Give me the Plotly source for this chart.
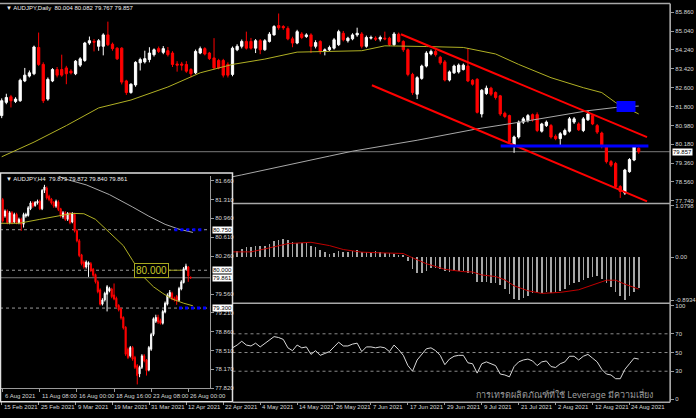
import plotly.graph_objects as go

# ---------------- DATA ----------------
# Daily AUDJPY candles, bar 0 = 15 Feb 2021 ... bar 138 = 26 Aug 2021
daily_open = [81.41,81.98,82.22,82.02,82.05,82.90,83.11,83.21,84.34,83.61,
82.12,82.90,83.39,83.39,83.46,83.32,83.21,83.58,83.78,84.53,
84.60,84.39,84.39,84.88,84.48,84.31,84.31,82.90,82.40,82.73,
83.68,83.72,83.82,84.03,84.29,84.13,84.20,84.10,83.63,83.63,
83.61,83.39,83.25,84.10,84.29,84.10,83.89,83.78,83.78,83.61,
83.18,84.24,84.39,84.60,84.60,84.31,84.63,84.24,84.60,84.88,
85.28,85.24,85.16,84.71,84.53,84.92,84.81,84.88,84.39,84.60,
84.17,84.24,84.31,84.46,84.95,84.63,84.71,84.88,84.92,84.39,
84.74,84.74,84.70,84.74,84.74,84.46,84.91,84.60,84.24,83.18,
82.33,83.01,83.54,84.06,84.17,83.92,83.72,82.94,83.25,83.29,
83.39,83.54,82.93,82.97,81.48,82.36,82.59,82.40,82.26,81.51,
81.41,80.13,80.49,81.13,81.20,81.45,81.45,80.74,80.98,80.98,
80.52,80.42,80.60,80.74,81.13,81.05,80.77,81.23,81.41,80.98,
80.66,80.09,79.43,79.35,78.36,78.08,79.00,79.50,80.004]
daily_high = [82.15,82.35,82.30,82.20,83.00,83.46,83.35,84.42,84.98,83.70,
83.05,83.45,83.50,84.03,83.55,83.40,83.80,83.92,84.58,84.81,
84.70,84.70,84.95,85.45,84.55,84.35,84.35,82.95,82.80,83.75,
83.90,84.20,84.35,84.30,84.38,84.40,84.36,84.18,83.75,83.72,
83.75,83.45,84.25,84.38,84.35,84.15,84.74,83.85,83.85,83.70,
84.38,84.48,84.68,85.02,84.75,84.70,84.70,84.70,85.00,85.30,
85.80,85.30,85.25,84.80,85.10,85.00,84.95,84.95,84.65,84.65,
84.30,84.42,84.75,85.10,85.05,84.80,84.95,85.19,85.00,84.85,
84.85,84.82,84.85,85.02,84.80,85.00,84.98,84.65,84.30,83.25,
83.10,83.60,84.18,84.25,84.25,83.98,83.80,83.35,83.60,83.65,
83.65,84.31,82.98,83.02,82.55,82.70,82.65,82.45,82.30,81.58,
81.45,80.55,81.20,81.35,81.48,81.50,81.55,81.10,81.20,81.05,
80.60,80.70,80.85,81.35,81.35,81.12,81.35,81.62,81.48,81.05,
80.72,80.15,79.50,79.42,78.42,79.12,79.58,80.12,80.082]
daily_low = [81.30,81.90,81.76,81.95,82.00,82.85,83.05,83.15,83.55,81.95,
82.05,82.85,83.05,83.08,82.76,83.18,83.15,83.50,83.72,84.45,
84.17,84.20,84.00,84.40,84.20,83.80,82.75,82.30,82.35,82.65,
83.35,83.65,83.70,83.95,84.10,84.05,83.95,83.50,83.30,83.35,
83.25,83.05,83.20,84.05,84.00,83.80,83.40,83.40,83.05,83.05,
83.10,84.18,84.30,84.25,84.25,84.10,84.05,84.20,84.55,84.85,
85.10,85.10,84.65,84.35,84.48,84.70,84.75,84.10,84.30,84.05,
84.00,84.18,84.25,84.40,84.60,84.55,84.65,84.80,84.30,84.33,
84.68,84.62,84.60,84.65,84.40,84.40,84.55,84.15,83.10,82.30,
82.12,82.95,83.48,84.00,83.95,83.60,82.88,82.88,83.20,83.22,
83.35,82.85,82.70,81.50,81.33,82.30,82.25,82.10,81.40,81.30,
80.20,79.81,80.42,81.05,81.12,81.15,80.70,80.68,80.92,80.42,
80.35,80.13,80.55,80.68,81.05,80.75,80.70,81.18,81.00,80.62,
80.00,79.35,79.20,78.28,77.87,78.00,78.95,79.45,79.767]
daily_close = [82.05,82.19,82.05,82.12,82.93,83.15,83.25,84.36,83.61,82.05,
82.97,83.39,83.15,83.15,83.21,83.25,83.75,83.85,84.53,84.63,
84.57,84.63,84.88,84.46,84.29,83.85,82.85,82.40,82.76,83.70,
83.82,83.86,84.10,84.24,84.17,84.29,84.03,83.61,83.58,83.58,
83.32,83.21,84.17,84.29,84.06,83.86,83.46,83.46,83.15,83.15,
84.31,84.39,84.60,84.31,84.31,84.63,84.24,84.63,84.91,85.24,
85.19,85.19,84.71,84.53,85.02,84.77,84.88,84.39,84.55,84.17,
84.24,84.34,84.67,85.02,84.67,84.74,84.88,84.95,84.39,84.77,
84.77,84.70,84.77,84.71,84.46,84.92,84.60,84.24,83.18,82.40,
83.04,83.54,84.10,84.17,84.03,83.68,82.94,83.29,83.54,83.58,
83.58,82.90,82.76,81.55,82.50,82.59,82.33,82.19,81.48,81.37,
80.28,80.49,81.13,81.27,81.41,81.23,80.77,81.05,81.13,80.49,
80.42,80.63,80.77,81.27,81.27,80.80,81.27,81.48,81.05,80.70,
80.09,79.43,79.28,78.36,78.15,79.07,79.52,80.06,79.857]

# moving averages
ma50_idx = [0, 7, 14, 21, 28, 36, 43, 50, 57, 61, 64, 71, 78, 83, 89, 92, 100, 107, 112, 119, 126, 130, 133, 138]
ma50_val = [79.64, 80.27, 80.98, 81.74, 82.08, 82.64, 83.25, 83.61, 83.84, 84.03, 84.14, 84.17, 84.20, 84.41,
            84.41, 84.38, 84.34, 84.06, 83.61, 83.04, 82.61, 82.40, 81.97, 81.48]
ma200_idx = [50, 52, 71, 76, 90, 103, 112, 119, 127, 133, 138]
ma200_val = [78.78, 78.86, 79.67, 79.88, 80.35, 80.84, 81.12, 81.34, 81.62, 81.76, 81.82]

# drawn objects
channel_upper_idx = [86.5, 139.8]
channel_upper_val = [84.908, 80.486]
channel_lower_idx = [80.2, 139.8]
channel_lower_val = [82.714, 77.722]
support_idx = [108.1, 140.1]
support_level = 80.10
zone_idx = [133.2, 137.3]
zone_val = [81.57, 82.04]
bid_daily = 79.857

main_tick_idx = [0, 8, 16, 24, 32, 40, 48, 56, 64, 72, 80, 88, 96, 104, 112, 120, 128, 136]
main_tick_text = ["15 Feb 2021", "25 Feb 2021", "9 Mar 2021", "19 Mar 2021", "31 Mar 2021", "12 Apr 2021",
                  "22 Apr 2021", "4 May 2021", "14 May 2021", "26 May 2021", "7 Jun 2021", "17 Jun 2021",
                  "29 Jun 2021", "9 Jul 2021", "21 Jul 2021", "2 Aug 2021", "12 Aug 2021", "24 Aug 2021"]
price_ticks = [85.860, 85.040, 84.240, 83.420, 82.600, 81.800, 80.980, 80.180, 79.360, 78.560, 77.740]

# MACD (bars from 50 on; left part hidden behind inset)
macd_start = 50
macd_hist = [0.107,0.127,0.175,0.217,0.217,0.244,0.23,0.244,0.285,0.333,
0.368,0.388,0.354,0.32,0.30,0.30,0.30,0.23,0.217,0.16,
0.107,0.079,0.093,0.127,0.113,0.113,0.141,0.148,0.107,0.107,
0.107,0.127,0.107,0.093,0.093,0.072,0.058,0.038,-0.079,-0.25,
-0.32,-0.335,-0.285,-0.216,-0.216,-0.25,-0.285,-0.306,-0.285,-0.285,
-0.285,-0.32,-0.354,-0.512,-0.512,-0.512,-0.526,-0.526,-0.58,-0.663,
-0.766,-0.87,-0.89,-0.85,-0.80,-0.746,-0.732,-0.746,-0.732,-0.746,
-0.718,-0.698,-0.663,-0.58,-0.54,-0.512,-0.471,-0.423,-0.402,-0.388,
-0.443,-0.526,-0.629,-0.718,-0.814,-0.89,-0.80,-0.72,-0.65]
signal_idx = [50, 54, 58, 62, 67, 71, 74, 78, 82, 85, 87, 89, 92, 96, 100, 102, 104, 107, 109, 111, 114,
              117, 121, 125, 128, 131, 133, 135, 138]
signal_val = [0.113, 0.113, 0.196, 0.285, 0.313, 0.244, 0.162, 0.107, 0.093, 0.093, 0.079, -0.010, -0.134,
              -0.251, -0.299, -0.306, -0.368, -0.402, -0.471, -0.595, -0.698, -0.753, -0.732, -0.677,
              -0.574, -0.478, -0.478, -0.560, -0.663]
macd_ticks = [1.0798, 0.0, -0.8934]
macd_ticktext = ["1.0798", "0.00", "-0.8934"]

# oscillator (0-100)
osc_start = 50
osc_val = [55,58,62,58,57,60,56,60,64,67,66,
64,55,52,58,55,56,48,52,47,49,
51,56,61,57,57,59,60,51,56,56,
55,56,55,51,58,53,47,36,
30,42,48,54,55,52,47,37,43,46,47,47,
39,38,28,38,40,38,36,27,26,24,
35,40,42,43,41,36,40,41,35,34,
38,40,46,46,42,46,48,44,40,32,
27,26,22,22,32,38,44,43]
osc_levels = [70, 50, 30]
osc_ticks = [100, 70, 50, 30, 0]

# H4 inset, bar 0 = 6 Aug 16:00 ... bar 81 = 26 Aug 04:00
h4_open = [81.307,81.003,81.094,80.881,81.064,80.893,81.033,80.881,80.942,80.851,
81.003,81.015,81.137,81.246,81.198,81.246,81.277,81.137,81.478,81.520,
81.368,81.319,81.259,81.186,81.265,81.137,80.991,81.064,80.942,81.052,
80.893,81.033,80.729,80.546,80.285,80.151,80.060,80.102,80.121,80.017,
79.920,79.786,79.634,79.372,79.451,79.555,79.615,79.652,79.543,79.482,
79.348,79.287,79.128,78.946,78.538,78.416,78.569,78.386,78.234,78.082,
78.203,78.416,78.337,78.154,78.538,78.812,79.056,79.128,79.068,79.019,
79.226,79.372,79.512,79.573,79.482,79.512,79.445,79.652,79.774,80.017,
80.060,79.873]
h4_high = [81.338,81.125,81.125,81.094,81.094,81.064,81.064,80.973,80.973,81.064,
81.064,81.186,81.277,81.277,81.277,81.307,81.307,81.502,81.581,81.551,
81.399,81.338,81.277,81.307,81.295,81.155,81.094,81.094,81.076,81.076,
81.076,81.064,80.760,80.577,80.303,80.182,80.182,80.163,80.151,80.041,
79.938,79.816,79.664,79.482,79.603,79.725,79.694,79.676,79.755,79.512,
79.372,79.311,79.147,78.964,78.569,78.599,78.599,78.416,78.264,78.234,
78.447,78.447,78.356,78.599,78.842,79.128,79.177,79.177,79.104,79.268,
79.421,79.573,79.634,79.603,79.512,79.543,79.694,79.816,80.060,80.121,
80.078,79.882]
h4_low = [80.881,80.973,80.851,80.851,80.851,80.869,80.851,80.851,80.729,80.790,
80.973,80.991,81.113,81.155,81.174,81.216,81.113,81.113,81.429,81.307,
81.277,81.216,81.155,81.155,81.094,80.973,80.954,80.912,80.912,80.851,
80.869,80.699,80.516,80.242,80.090,80.029,80.029,79.877,79.968,79.877,
79.755,79.573,79.348,79.348,79.421,79.238,79.591,79.482,79.445,79.299,
79.238,79.086,78.903,78.416,78.356,78.386,78.325,78.173,77.887,78.021,
78.173,78.295,78.051,78.130,78.508,78.782,79.025,79.007,78.995,78.995,
79.202,79.348,79.482,79.445,79.421,79.360,79.421,79.628,79.755,79.999,
79.786,79.840]
h4_close = [80.912,81.094,80.881,81.064,80.881,81.033,80.881,80.942,80.851,81.033,
81.033,81.155,81.246,81.186,81.259,81.277,81.137,81.478,81.539,81.338,
81.307,81.246,81.186,81.277,81.125,81.003,81.064,80.942,81.052,80.881,
81.052,80.729,80.546,80.273,80.121,80.060,80.151,80.139,79.999,79.908,
79.786,79.603,79.372,79.451,79.573,79.694,79.664,79.512,79.469,79.329,
79.268,79.116,78.934,78.447,78.386,78.569,78.356,78.203,78.051,78.203,
78.416,78.325,78.142,78.569,78.812,79.104,79.128,79.043,79.019,79.238,
79.390,79.543,79.591,79.469,79.451,79.433,79.664,79.786,80.029,80.078,
79.895,79.861]
h4_ma_fast_k = [-1, 7, 16, 25, 30, 35, 40, 46, 52, 56, 60, 65, 69, 73, 78, 82]
h4_ma_fast = [80.869, 80.869, 80.942, 81.015, 81.052, 81.046, 80.942, 80.699, 80.455, 80.181, 79.908,
              79.694, 79.573, 79.469, 79.390, 79.342]
h4_ma_slow_k = [22, 26, 36, 46, 56, 63, 70, 76, 82]
h4_ma_slow = [81.80, 81.70, 81.58, 81.40, 81.17, 81.00, 80.85, 80.76, 80.70]
h4_tick_k = [0, 16, 32, 48, 64, 80]
h4_tick_text = ["6 Aug 2021", "11 Aug 08:00", "16 Aug 00:00", "18 Aug 16:00", "23 Aug 08:00", "26 Aug 00:00"]
h4_price_ticks = [81.660, 81.310, 80.960, 80.610, 80.260, 79.560, 79.210, 78.860, 78.510, 78.170, 77.820]
h4_level_high = 80.750
h4_level_round = 80.000
h4_level_low = 79.300
h4_bid = 79.861
h4_blue_high_k = [74, 87]
h4_blue_low_k = [76, 89]
h4_round_box_k = 64
h4_round_line_k = [70.5, 77]

header_daily = "▼ AUDJPY,Daily  80.004 80.082 79.767 79.857"
header_h4 = "▼ AUDJPY,H4  79.873 79.872 79.840 79.861"
watermark = "การเทรดผลิตภัณฑ์ที่ใช้ Leverage มีความเสี่ยง"

# ---------------- LAYOUT HELPERS ----------------
W, H = 696, 418
def fx(p):
    return p / W
def fy(p):
    return 1 - p / H

FONT = "Tahoma, Liberation Sans, Arial, sans-serif"
LBL = "#D6D6D6"
GRID = "#9A9A9A"
XR_MAIN = [-0.37, 144.8]
XR_H4 = [-1.16, 89.4]

daily_idx = list(range(len(daily_close)))
h4_k = list(range(len(h4_close)))
macd_idx = [macd_start + i for i in range(len(macd_hist))]
osc_idx = [osc_start + i for i in range(len(osc_val))]

fig = go.Figure()

candle_style = dict(
    increasing=dict(line=dict(color="#FFFFFF", width=1), fillcolor="#FFFFFF"),
    decreasing=dict(line=dict(color="#FF0000", width=1), fillcolor="#FF0000"),
    showlegend=False, hoverinfo="skip")

# main daily panel
fig.add_trace(go.Scatter(x=ma200_idx, y=ma200_val, mode="lines", line=dict(color="#A8A8A8", width=1),
                         xaxis="x", yaxis="y", showlegend=False, hoverinfo="skip"))
fig.add_trace(go.Scatter(x=ma50_idx, y=ma50_val, mode="lines", line=dict(color="#B0B024", width=1),
                         xaxis="x", yaxis="y", showlegend=False, hoverinfo="skip"))
fig.add_trace(go.Candlestick(x=daily_idx, open=daily_open, high=daily_high, low=daily_low, close=daily_close,
                             xaxis="x", yaxis="y", **candle_style))
fig.add_trace(go.Scatter(x=channel_upper_idx, y=channel_upper_val, mode="lines",
                         line=dict(color="#FF0000", width=2), xaxis="x", yaxis="y", showlegend=False,
                         hoverinfo="skip"))
fig.add_trace(go.Scatter(x=channel_lower_idx, y=channel_lower_val, mode="lines",
                         line=dict(color="#FF0000", width=2), xaxis="x", yaxis="y", showlegend=False,
                         hoverinfo="skip"))
fig.add_trace(go.Scatter(x=support_idx, y=[support_level, support_level], mode="lines",
                         line=dict(color="#0000FF", width=3), xaxis="x", yaxis="y", showlegend=False,
                         hoverinfo="skip"))

# MACD panel
fig.add_trace(go.Bar(x=macd_idx, y=macd_hist, width=0.35, marker=dict(color="#A6A6A6", line=dict(width=0)),
                     xaxis="x2", yaxis="y2", showlegend=False, hoverinfo="skip"))
fig.add_trace(go.Scatter(x=signal_idx, y=signal_val, mode="lines", line=dict(color="#C00000", width=1),
                         xaxis="x2", yaxis="y2", showlegend=False, hoverinfo="skip"))

# oscillator panel
fig.add_trace(go.Scatter(x=osc_idx, y=osc_val, mode="lines", line=dict(color="#D8D8D8", width=1),
                         xaxis="x3", yaxis="y3", showlegend=False, hoverinfo="skip"))

# H4 inset
fig.add_trace(go.Scatter(x=h4_ma_slow_k, y=h4_ma_slow, mode="lines", line=dict(color="#A8A8A8", width=1),
                         xaxis="x4", yaxis="y4", showlegend=False, hoverinfo="skip"))
fig.add_trace(go.Scatter(x=h4_ma_fast_k, y=h4_ma_fast, mode="lines", line=dict(color="#B0B024", width=1),
                         xaxis="x4", yaxis="y4", showlegend=False, hoverinfo="skip"))
fig.add_trace(go.Candlestick(x=h4_k, open=h4_open, high=h4_high, low=h4_low, close=h4_close,
                             xaxis="x4", yaxis="y4", **candle_style))
fig.add_trace(go.Scatter(x=h4_blue_high_k, y=[h4_level_high, h4_level_high], mode="lines",
                         line=dict(color="#0000FF", width=3, dash="dot"), xaxis="x4", yaxis="y4",
                         showlegend=False, hoverinfo="skip"))
fig.add_trace(go.Scatter(x=h4_blue_low_k, y=[h4_level_low, h4_level_low], mode="lines",
                         line=dict(color="#0000FF", width=3, dash="dot"), xaxis="x4", yaxis="y4",
                         showlegend=False, hoverinfo="skip"))
fig.add_trace(go.Scatter(x=h4_round_line_k, y=[h4_level_round, h4_level_round], mode="lines",
                         line=dict(color="#9C9C20", width=1), xaxis="x4", yaxis="y4",
                         showlegend=False, hoverinfo="skip"))

shapes = []
# bid line daily
shapes.append(dict(type="line", xref="x", yref="y", x0=XR_MAIN[0], x1=XR_MAIN[1], y0=bid_daily, y1=bid_daily,
                   line=dict(color="#7A7A7A", width=1), layer="below"))
# blue zone
shapes.append(dict(type="rect", xref="x", yref="y", x0=zone_idx[0], x1=zone_idx[1], y0=zone_val[0],
                   y1=zone_val[1], fillcolor="#0000FF", line=dict(width=0), layer="above"))
# oscillator levels
for lv in osc_levels:
    shapes.append(dict(type="line", xref="x3", yref="y3", x0=osc_start, x1=XR_MAIN[1], y0=lv, y1=lv,
                       line=dict(color="#8A8A8A", width=1, dash="dot"), layer="below"))
# inset levels
for lv in (h4_level_high, h4_level_round, h4_level_low):
    shapes.append(dict(type="line", xref="x4", yref="y4", x0=XR_H4[0], x1=XR_H4[1], y0=lv, y1=lv,
                       line=dict(color="#9A9A9A", width=1, dash="dot"), layer="below"))
shapes.append(dict(type="line", xref="x4", yref="y4", x0=XR_H4[0], x1=XR_H4[1], y0=h4_bid, y1=h4_bid,
                   line=dict(color="#7A7A7A", width=1), layer="below"))
# window frames / separators
sep = dict(color="#A8A8A8", width=1.5)
shapes.append(dict(type="line", xref="paper", yref="paper", x0=0, x1=fx(673), y0=fy(1.5), y1=fy(1.5), line=sep))
shapes.append(dict(type="line", xref="paper", yref="paper", x0=fx(673), x1=fx(673), y0=fy(405), y1=fy(1.5), line=sep))
shapes.append(dict(type="line", xref="paper", yref="paper", x0=fx(234), x1=fx(673), y0=fy(204), y1=fy(204), line=sep))
shapes.append(dict(type="line", xref="paper", yref="paper", x0=fx(234), x1=fx(673), y0=fy(305), y1=fy(305), line=sep))
shapes.append(dict(type="line", xref="paper", yref="paper", x0=fx(234), x1=fx(673), y0=fy(405), y1=fy(405), line=sep))
# inset window frame
shapes.append(dict(type="rect", xref="paper", yref="paper", x0=fx(0.5), x1=fx(233.5), y0=fy(404.5), y1=fy(173),
                   line=dict(color="#E0E0E0", width=1.5), fillcolor="rgba(0,0,0,0)", layer="above"))

ann = []
ann.append(dict(text=header_daily, xref="paper", yref="paper", x=fx(4), y=fy(6), xanchor="left", yanchor="middle",
                showarrow=False, font=dict(size=6, color="#F0F0F0", family=FONT)))
ann.append(dict(text=header_h4, xref="paper", yref="paper", x=fx(4), y=fy(179), xanchor="left", yanchor="middle",
                showarrow=False, font=dict(size=6, color="#F0F0F0", family=FONT)))
for k, t in zip(main_tick_idx, main_tick_text):
    ann.append(dict(text=t, xref="x3", yref="paper", x=k, y=fy(410), xanchor="left", yanchor="middle",
                    showarrow=False, font=dict(size=6, color=LBL, family=FONT)))
for k, t in zip(h4_tick_k, h4_tick_text):
    ann.append(dict(text=t, xref="x4", yref="paper", x=k, y=fy(398.5), xanchor="left", yanchor="middle",
                    showarrow=False, font=dict(size=6, color=LBL, family=FONT)))
ann.append(dict(text="%.3f" % bid_daily, xref="paper", yref="y", x=fx(675), y=bid_daily, xanchor="left",
                yanchor="middle", showarrow=False, bgcolor="#FFFFFF", borderpad=0,
                font=dict(size=6, color="#000000", family=FONT)))
for lv in (h4_level_high, h4_level_round, h4_bid, h4_level_low):
    ann.append(dict(text="%.3f" % lv, xref="paper", yref="y4", x=fx(213), y=lv, xanchor="left",
                    yanchor="middle", showarrow=False, bgcolor="#FFFFFF", borderpad=0,
                    font=dict(size=6, color="#000000", family=FONT)))
ann.append(dict(text="%.3f" % h4_level_round, xref="x4", yref="y4", x=h4_round_box_k, y=h4_level_round,
                xanchor="center", yanchor="middle", showarrow=False, bgcolor="#000000", bordercolor="#A8A820",
                borderwidth=1, borderpad=1, font=dict(size=10, color="#C8C828", family=FONT)))
ann.append(dict(text=watermark, xref="paper", yref="paper", x=fx(567), y=fy(397), xanchor="center",
                yanchor="middle", showarrow=False, font=dict(size=9, color="#9A9A9A", family="Noto Sans, DejaVu Sans, sans-serif")))

base_ax = dict(showgrid=False, zeroline=False, fixedrange=True)
ytick = dict(ticks="outside", ticklen=3, tickcolor=GRID, tickfont=dict(size=6, color=LBL, family=FONT),
             showline=True, linecolor=GRID, linewidth=1, side="right")

fig.update_layout(
    width=W, height=H, autosize=False,
    margin=dict(l=0, r=0, t=0, b=0, pad=0),
    paper_bgcolor="#000000", plot_bgcolor="#000000",
    showlegend=False, bargap=0,
    font=dict(family=FONT, size=6, color=LBL),
    xaxis=dict(domain=[0, fx(673)], range=XR_MAIN, anchor="y", showticklabels=False, ticks="",
               rangeslider=dict(visible=False), **base_ax),
    yaxis=dict(domain=[fy(203), fy(2)], range=[77.67, 86.21], anchor="x", tickvals=price_ticks,
               ticktext=["%.3f" % v for v in price_ticks], **ytick, **base_ax),
    xaxis2=dict(domain=[0, fx(673)], range=XR_MAIN, anchor="y2", showticklabels=False, ticks="", **base_ax),
    yaxis2=dict(domain=[fy(304), fy(205)], range=[-0.94, 1.10], anchor="x2", tickvals=macd_ticks,
                ticktext=macd_ticktext, **ytick, **base_ax),
    xaxis3=dict(domain=[0, fx(673)], range=XR_MAIN, anchor="y3", showticklabels=False, tickvals=main_tick_idx,
                ticks="outside", ticklen=3, tickcolor=GRID, **base_ax),
    yaxis3=dict(domain=[fy(404), fy(306)], range=[-2, 101.5], anchor="x3", tickvals=osc_ticks,
                ticktext=[str(v) for v in osc_ticks], **ytick, **base_ax),
    xaxis4=dict(domain=[0, fx(211)], range=XR_H4, anchor="y4", showticklabels=False, tickvals=h4_tick_k,
                ticks="outside", ticklen=3, tickcolor=GRID, showline=True, linecolor=GRID,
                rangeslider=dict(visible=False), **base_ax),
    yaxis4=dict(domain=[fy(391), fy(176)], range=[77.815, 81.746], anchor="x4", tickvals=h4_price_ticks,
                ticktext=["%.3f" % v for v in h4_price_ticks], **ytick, **base_ax),
    shapes=shapes, annotations=ann,
)

fig.write_html("out.html", config={"displayModeBar": False, "staticPlot": True},
               post_script="document.body.style.margin='0';document.body.style.backgroundColor='#000';")
